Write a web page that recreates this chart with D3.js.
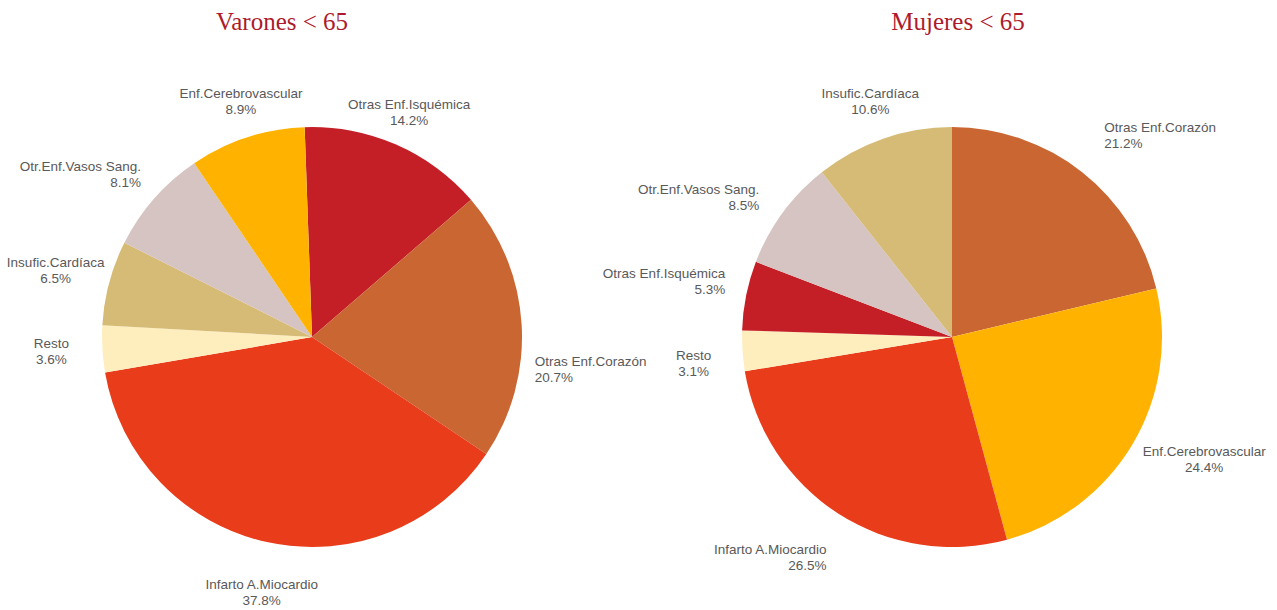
<!DOCTYPE html>
<html>
<head>
<meta charset="utf-8">
<script src="https://cdn.jsdelivr.net/npm/d3@7/dist/d3.min.js"></script>
<style>
  body { margin: 0; background: #fff; }
  .title { font-family: 'Liberation Serif', 'DejaVu Serif', serif; font-size: 25px; fill: #ae1a2c; }
  .lbl { font-family: 'Liberation Sans', Arial, sans-serif; font-size: 13.5px; fill: #595959; }
</style>
</head>
<body>
<div id="chart-area"></div>
<script>
// size of the page
const width = 1277;
const height = 610;
const radius = 210;

// categories and values
const menCauses = [
  'Otras Enf.Isquémica',
  'Otras Enf.Corazón',
  'Infarto A.Miocardio',
  'Resto',
  'Insufic.Cardíaca',
  'Otr.Enf.Vasos Sang.',
  'Enf.Cerebrovascular',
];
const menValues = [14.2, 20.7, 37.8, 3.6, 6.5, 8.1, 8.9];

const womenCauses = [
  'Otras Enf.Corazón',
  'Enf.Cerebrovascular',
  'Infarto A.Miocardio',
  'Resto',
  'Otras Enf.Isquémica',
  'Otr.Enf.Vasos Sang.',
  'Insufic.Cardíaca',
];
const womenValues = [21.2, 24.4, 26.5, 3.1, 5.3, 8.5, 10.6];

const titles = ['Varones < 65', 'Mujeres < 65'];

// colour per cause
const color = d3
  .scaleOrdinal()
  .domain([
    'Infarto A.Miocardio',
    'Otras Enf.Corazón',
    'Otras Enf.Isquémica',
    'Enf.Cerebrovascular',
    'Otr.Enf.Vasos Sang.',
    'Insufic.Cardíaca',
    'Resto',
  ])
  .range(['#e83c1a', '#c96632', '#c41f27', '#ffb300', '#d6c4c2', '#d6bb76', '#feedbd']);

// label tweaks (offset from the arc point, and how the 2nd line aligns)
const menLabelNudge = {
  'Otras Enf.Isquémica': [-5, 9, 'middle'],
  'Otras Enf.Corazón': [24, 48, 'start'],
  'Infarto A.Miocardio': [3, 6, 'middle'],
  Resto: [-6, 0, 'middle'],
  'Insufic.Cardíaca': [-10, -1, 'middle'],
  'Otr.Enf.Vasos Sang.': [-40, 6, 'end'],
  'Enf.Cerebrovascular': [8, 7, 'middle'],
};
const womenLabelNudge = {
  'Otras Enf.Corazón': [50, -1, 'start'],
  'Enf.Cerebrovascular': [33, -8, 'middle'],
  'Infarto A.Miocardio': [-44, 6, 'end'],
  Resto: [-4, 10, 'middle'],
  'Otras Enf.Isquémica': [-38, -5, 'end'],
  'Otr.Enf.Vasos Sang.': [-48, 12, 'end'],
  'Insufic.Cardíaca': [2, 5, 'middle'],
};

const svg = d3
  .select('#chart-area')
  .append('svg')
  .attr('width', width)
  .attr('height', height);

const arc = d3.arc().innerRadius(0).outerRadius(radius);
const labelArc = d3.arc().innerRadius(255).outerRadius(255);

function drawPie(cx, cy, titleX, title, causes, values, nudge, start) {
  svg
    .append('text')
    .attr('class', 'title')
    .attr('x', titleX)
    .attr('y', 30)
    .attr('text-anchor', 'middle')
    .text(title);

  const data = causes.map((c, i) => ({ cause: c, value: values[i] }));
  const pie = d3
    .pie()
    .sort(null)
    .value((d) => d.value)
    .startAngle(start)
    .endAngle(start + 2 * Math.PI);

  const g = svg.append('g').attr('transform', `translate(${cx}, ${cy})`);

  g.selectAll('.slice')
    .data(pie(data))
    .enter()
    .append('path')
    .attr('class', 'slice')
    .attr('d', arc)
    .attr('fill', (d) => color(d.data.cause));

  const labels = g
    .selectAll('.label')
    .data(pie(data))
    .enter()
    .append('g')
    .attr('class', 'label')
    .attr('transform', (d) => {
      const [x, y] = labelArc.centroid(d);
      const n = nudge[d.data.cause];
      return `translate(${x + n[0]}, ${y + n[1]})`;
    });

  labels.each(function (d) {
    const el = d3.select(this);
    const align = nudge[d.data.cause][2];
    const t1 = el
      .append('text')
      .attr('class', 'lbl')
      .attr('y', -3.5)
      .attr('text-anchor', 'middle')
      .text(d.data.cause);
    const w = t1.node().getComputedTextLength();
    const x2 = align === 'start' ? -w / 2 : align === 'end' ? w / 2 : 0;
    el.append('text')
      .attr('class', 'lbl')
      .attr('x', x2)
      .attr('y', 12.5)
      .attr('text-anchor', align)
      .text(`${d.data.value.toFixed(1)}%`);
  });
}

drawPie(312, 337, 282, titles[0], menCauses, menValues, menLabelNudge, -0.035);
drawPie(952, 337, 958, titles[1], womenCauses, womenValues, womenLabelNudge, 0);
</script>
</body>
</html>
